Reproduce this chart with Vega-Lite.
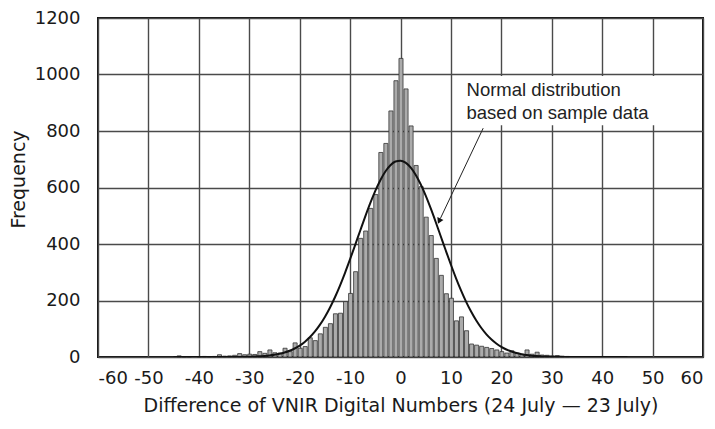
{
  "$schema": "https://vega.github.io/schema/vega-lite/v6.json",
  "width": 605,
  "height": 339,
  "autosize": {"type": "none"},
  "padding": {"left": 98, "top": 18, "right": 12, "bottom": 72},
  "background": "white",
  "config": {
    "font": "DejaVu Sans",
    "view": {"stroke": "#111", "strokeWidth": 2},
    "axis": {
      "domain": false,
      "ticks": false,
      "grid": true,
      "gridColor": "#4a4a4a",
      "gridWidth": 1.4,
      "labelFont": "DejaVu Sans",
      "labelFontSize": 18,
      "labelColor": "#1a1a1a",
      "titleFont": "DejaVu Sans",
      "titleFontSize": 19,
      "titleFontWeight": "normal",
      "titleColor": "#1a1a1a"
    }
  },
  "datasets": {
    "hist": [
      {"lo": -44.5, "hi": -43.5, "count": 4},
      {"lo": -43.5, "hi": -42.5, "count": 1},
      {"lo": -42.5, "hi": -41.5, "count": 1},
      {"lo": -40.5, "hi": -39.5, "count": 1},
      {"lo": -39.5, "hi": -38.5, "count": 2},
      {"lo": -38.5, "hi": -37.5, "count": 1},
      {"lo": -37.5, "hi": -36.5, "count": 2},
      {"lo": -36.5, "hi": -35.5, "count": 8},
      {"lo": -35.5, "hi": -34.5, "count": 3},
      {"lo": -34.5, "hi": -33.5, "count": 4},
      {"lo": -33.5, "hi": -32.5, "count": 6},
      {"lo": -32.5, "hi": -31.5, "count": 12},
      {"lo": -31.5, "hi": -30.5, "count": 8},
      {"lo": -30.5, "hi": -29.5, "count": 10},
      {"lo": -29.5, "hi": -28.5, "count": 9},
      {"lo": -28.5, "hi": -27.5, "count": 19},
      {"lo": -27.5, "hi": -26.5, "count": 13},
      {"lo": -26.5, "hi": -25.5, "count": 25},
      {"lo": -25.5, "hi": -24.5, "count": 15},
      {"lo": -24.5, "hi": -23.5, "count": 14},
      {"lo": -23.5, "hi": -22.5, "count": 31},
      {"lo": -22.5, "hi": -21.5, "count": 19},
      {"lo": -21.5, "hi": -20.5, "count": 50},
      {"lo": -20.5, "hi": -19.5, "count": 31},
      {"lo": -19.5, "hi": -18.5, "count": 37},
      {"lo": -18.5, "hi": -17.5, "count": 68},
      {"lo": -17.5, "hi": -16.5, "count": 58},
      {"lo": -16.5, "hi": -15.5, "count": 82},
      {"lo": -15.5, "hi": -14.5, "count": 105},
      {"lo": -14.5, "hi": -13.5, "count": 118},
      {"lo": -13.5, "hi": -12.5, "count": 153},
      {"lo": -12.5, "hi": -11.5, "count": 155},
      {"lo": -11.5, "hi": -10.5, "count": 196},
      {"lo": -10.5, "hi": -9.5, "count": 225},
      {"lo": -9.5, "hi": -8.5, "count": 302},
      {"lo": -8.5, "hi": -7.5, "count": 420},
      {"lo": -7.5, "hi": -6.5, "count": 446},
      {"lo": -6.5, "hi": -5.5, "count": 526},
      {"lo": -5.5, "hi": -4.5, "count": 575},
      {"lo": -4.5, "hi": -3.5, "count": 724},
      {"lo": -3.5, "hi": -2.5, "count": 756},
      {"lo": -2.5, "hi": -1.5, "count": 871},
      {"lo": -1.5, "hi": -0.5, "count": 978},
      {"lo": -0.5, "hi": 0.5, "count": 1057},
      {"lo": 0.5, "hi": 1.5, "count": 949},
      {"lo": 1.5, "hi": 2.5, "count": 818},
      {"lo": 2.5, "hi": 3.5, "count": 678},
      {"lo": 3.5, "hi": 4.5, "count": 603},
      {"lo": 4.5, "hi": 5.5, "count": 495},
      {"lo": 5.5, "hi": 6.5, "count": 430},
      {"lo": 6.5, "hi": 7.5, "count": 349},
      {"lo": 7.5, "hi": 8.5, "count": 289},
      {"lo": 8.5, "hi": 9.5, "count": 224},
      {"lo": 9.5, "hi": 10.5, "count": 208},
      {"lo": 10.5, "hi": 11.5, "count": 128},
      {"lo": 11.5, "hi": 12.5, "count": 142},
      {"lo": 12.5, "hi": 13.5, "count": 93},
      {"lo": 13.5, "hi": 14.5, "count": 46},
      {"lo": 14.5, "hi": 15.5, "count": 42},
      {"lo": 15.5, "hi": 16.5, "count": 38},
      {"lo": 16.5, "hi": 17.5, "count": 34},
      {"lo": 17.5, "hi": 18.5, "count": 30},
      {"lo": 18.5, "hi": 19.5, "count": 25},
      {"lo": 19.5, "hi": 20.5, "count": 19},
      {"lo": 20.5, "hi": 21.5, "count": 14},
      {"lo": 21.5, "hi": 22.5, "count": 22},
      {"lo": 22.5, "hi": 23.5, "count": 13},
      {"lo": 23.5, "hi": 24.5, "count": 10},
      {"lo": 24.5, "hi": 25.5, "count": 25},
      {"lo": 25.5, "hi": 26.5, "count": 10},
      {"lo": 26.5, "hi": 27.5, "count": 17},
      {"lo": 27.5, "hi": 28.5, "count": 7},
      {"lo": 28.5, "hi": 29.5, "count": 6},
      {"lo": 29.5, "hi": 30.5, "count": 4},
      {"lo": 30.5, "hi": 31.5, "count": 5},
      {"lo": 31.5, "hi": 32.5, "count": 3},
      {"lo": 32.5, "hi": 33.5, "count": 2}
    ],
    "normal": [
      {"x": -45, "y": 0}, {"x": -40, "y": 0}, {"x": -35, "y": 0.1}, {"x": -32, "y": 0.4},
      {"x": -30, "y": 1.1}, {"x": -29, "y": 1.7}, {"x": -28, "y": 2.5}, {"x": -27, "y": 3.8},
      {"x": -26, "y": 5.5}, {"x": -25, "y": 8.0}, {"x": -24, "y": 11.4}, {"x": -23, "y": 16.0},
      {"x": -22, "y": 22.1}, {"x": -21, "y": 30.1}, {"x": -20, "y": 40.4}, {"x": -19, "y": 53.4},
      {"x": -18, "y": 69.7}, {"x": -17, "y": 89.6}, {"x": -16, "y": 113.5}, {"x": -15, "y": 141.7},
      {"x": -14, "y": 174.5}, {"x": -13, "y": 211.6}, {"x": -12, "y": 253.0}, {"x": -11, "y": 298.1},
      {"x": -10, "y": 346.2}, {"x": -9, "y": 396.2}, {"x": -8, "y": 446.9}, {"x": -7, "y": 496.9},
      {"x": -6, "y": 544.4}, {"x": -5, "y": 588.0}, {"x": -4, "y": 625.8}, {"x": -3, "y": 656.6},
      {"x": -2, "y": 678.8}, {"x": -1, "y": 691.8}, {"x": 0, "y": 694.8}, {"x": 1, "y": 687.8},
      {"x": 2, "y": 671.0}, {"x": 3, "y": 645.2}, {"x": 4, "y": 611.5}, {"x": 5, "y": 571.2},
      {"x": 6, "y": 525.8}, {"x": 7, "y": 477.1}, {"x": 8, "y": 426.6}, {"x": 9, "y": 376.0},
      {"x": 10, "y": 326.6}, {"x": 11, "y": 279.6}, {"x": 12, "y": 236.0}, {"x": 13, "y": 196.2},
      {"x": 14, "y": 160.8}, {"x": 15, "y": 129.9}, {"x": 16, "y": 103.5}, {"x": 17, "y": 81.2},
      {"x": 18, "y": 62.8}, {"x": 19, "y": 47.9}, {"x": 20, "y": 36.0}, {"x": 21, "y": 26.6},
      {"x": 22, "y": 19.4}, {"x": 23, "y": 14.0}, {"x": 24, "y": 9.9}, {"x": 25, "y": 6.9},
      {"x": 26, "y": 4.8}, {"x": 27, "y": 3.2}, {"x": 28, "y": 2.2}, {"x": 29, "y": 1.4},
      {"x": 30, "y": 0.9}, {"x": 32, "y": 0.4}, {"x": 35, "y": 0.1}, {"x": 40, "y": 0}, {"x": 45, "y": 0}
    ]
  },
  "layer": [
    {
      "data": {"name": "hist"},
      "mark": {"type": "bar", "fill": "#ababab", "stroke": "#333", "strokeWidth": 0.8},
      "encoding": {
        "x": {
          "field": "lo", "type": "quantitative",
          "bin": {"binned": true},
          "scale": {"domain": [-60, 60], "nice": false},
          "axis": {
            "values": [-60, -50, -40, -30, -20, -10, 0, 10, 20, 30, 40, 50, 60],
            "labelExpr": "'' + datum.value",
            "labelPadding": 12,
            "title": "Difference of VNIR Digital Numbers (24 July — 23 July)",
            "titleY": 48,
            "titleBaseline": "middle"
          }
        },
        "x2": {"field": "hi"},
        "y": {
          "field": "count", "type": "quantitative",
          "scale": {"domain": [0, 1200], "nice": false},
          "axis": {
            "values": [0, 200, 400, 600, 800, 1000, 1200],
            "labelExpr": "'' + datum.value",
            "labelPadding": 18,
            "title": "Frequency",
            "titleX": -80,
            "titleY": 161,
            "titleBaseline": "middle"
          }
        }
      }
    },
    {
      "data": {"name": "normal"},
      "mark": {"type": "line", "color": "#111", "strokeWidth": 2, "interpolate": "monotone", "clip": true},
      "encoding": {
        "x": {"field": "x", "type": "quantitative"},
        "y": {"field": "y", "type": "quantitative"}
      }
    },
    {
      "data": {"values": [{}]},
      "mark": {"type": "rect", "fill": "white"},
      "encoding": {
        "x": {"datum": 12.6},
        "x2": {"datum": 51},
        "y": {"datum": 820},
        "y2": {"datum": 995}
      }
    },
    {
      "data": {"values": [{}]},
      "mark": {"type": "rule", "color": "#222", "strokeWidth": 1},
      "encoding": {
        "x": {"datum": 16.4},
        "y": {"datum": 810},
        "x2": {"datum": 7.9},
        "y2": {"datum": 490}
      }
    },
    {
      "data": {"values": [{}]},
      "mark": {"type": "point", "shape": "triangle", "filled": true, "color": "#111", "size": 45, "angle": 205, "opacity": 1},
      "encoding": {
        "x": {"datum": 7.75},
        "y": {"datum": 484}
      }
    },
    {
      "data": {"values": [{}]},
      "mark": {"type": "text", "text": "Normal distribution", "align": "left", "baseline": "middle", "fontSize": 18.5, "color": "#222", "font": "Liberation Sans"},
      "encoding": {
        "x": {"datum": 13.1},
        "y": {"datum": 945}
      }
    },
    {
      "data": {"values": [{}]},
      "mark": {"type": "text", "text": "based on sample data", "align": "left", "baseline": "middle", "fontSize": 18.5, "color": "#222", "font": "Liberation Sans"},
      "encoding": {
        "x": {"datum": 13.1},
        "y": {"datum": 864}
      }
    }
  ]
}
